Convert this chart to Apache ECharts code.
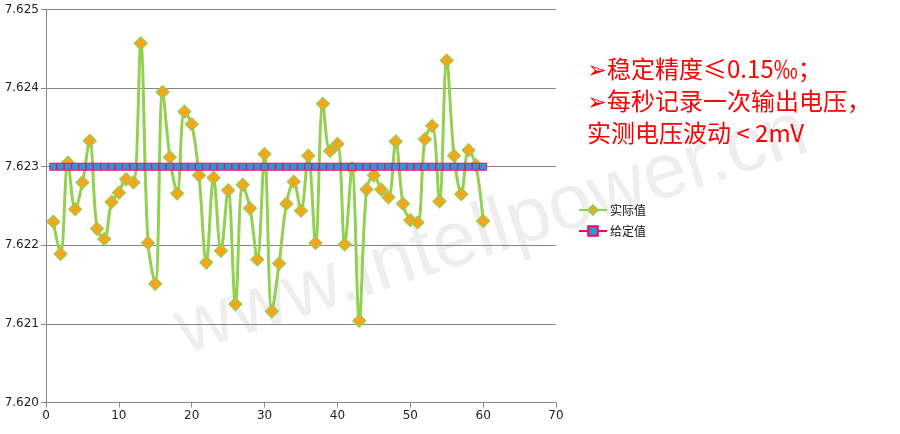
<!DOCTYPE html>
<html>
<head>
<meta charset="utf-8">
<script src="https://cdn.jsdelivr.net/npm/echarts@6/dist/echarts.min.js"></script>
<style>
html,body{margin:0;padding:0;background:#fff;}
#chart{width:900px;height:434px;}
</style>
</head>
<body>
<div id="chart"></div>
<script>
const seconds = [1,2,3,4,5,6,7,8,9,10,11,12,13,14,15,16,17,18,19,20,21,22,23,24,25,26,27,28,29,30,
  31,32,33,34,35,36,37,38,39,40,41,42,43,44,45,46,47,48,49,50,51,52,53,54,55,56,57,58,59,60];
const actualValues = [
  7.62230,7.62189,7.62305,7.62246,7.62280,7.62333,7.62221,7.62208,7.62255,7.62267,
  7.62284,7.62280,7.62457,7.62203,7.62151,7.62395,7.62312,7.62266,7.62370,7.62354,
  7.62289,7.62178,7.62286,7.62193,7.62270,7.62125,7.62277,7.62247,7.62182,7.62316,
  7.62116,7.62177,7.62253,7.62281,7.62244,7.62314,7.62203,7.62380,7.62320,7.62329,
  7.62201,7.62298,7.62104,7.62271,7.62289,7.62271,7.62261,7.62332,7.62253,7.62232,
  7.62229,7.62335,7.62352,7.62256,7.62435,7.62314,7.62265,7.62321,7.62302,7.62231];
const setpointValues = [
  7.623,7.623,7.623,7.623,7.623,7.623,7.623,7.623,7.623,7.623,
  7.623,7.623,7.623,7.623,7.623,7.623,7.623,7.623,7.623,7.623,
  7.623,7.623,7.623,7.623,7.623,7.623,7.623,7.623,7.623,7.623,
  7.623,7.623,7.623,7.623,7.623,7.623,7.623,7.623,7.623,7.623,
  7.623,7.623,7.623,7.623,7.623,7.623,7.623,7.623,7.623,7.623,
  7.623,7.623,7.623,7.623,7.623,7.623,7.623,7.623,7.623,7.623];
const seriesNames = ['实际值', '给定值'];
const noteLines = ['➢稳定精度≤0.15‰；', '➢每秒记录一次输出电压，', '实测电压波动 < 2mV'];
const watermark = 'www.intellpower.cn';

const actualData = seconds.map((s, i) => [s, actualValues[i]]);
const setData = seconds.map((s, i) => [s, setpointValues[i]]);

const chart = echarts.init(document.getElementById('chart'), null, {renderer: 'canvas'});
const axisColor = '#868686';
const labelFont = {color: '#222', fontSize: 12, fontFamily: 'DejaVu Sans'};

chart.setOption({
  animation: false,
  backgroundColor: '#fff',
  grid: {left: 46, right: 344, top: 9.5, bottom: 31.5, containLabel: false},
  xAxis: {
    type: 'value', min: 0, max: 70, interval: 10,
    axisLine: {show: true, lineStyle: {color: axisColor, width: 1}},
    axisTick: {show: true, length: 5, lineStyle: {color: axisColor}},
    axisLabel: Object.assign({margin: 7}, labelFont),
    splitLine: {show: false}
  },
  yAxis: {
    type: 'value', min: 7.620, max: 7.625, interval: 0.001,
    axisLine: {show: true, lineStyle: {color: axisColor, width: 1}},
    axisTick: {show: true, length: 5, lineStyle: {color: axisColor}},
    axisLabel: Object.assign({margin: 7, formatter: v => v.toFixed(3)}, labelFont),
    splitLine: {show: true, lineStyle: {color: axisColor, width: 1}}
  },
  legend: {
    orient: 'vertical', left: 573, top: 199,
    itemWidth: 28, itemHeight: 12, itemGap: 9,
    textStyle: {color: '#111', fontSize: 12, fontFamily: 'Noto Sans CJK SC', padding: [0,0,0,-2]},
    data: seriesNames
  },
  graphic: [
    {
      type: 'text', z: 0,
      x: 492, y: 232, rotation: 18 * Math.PI / 180,
      style: {text: watermark, fill: 'rgba(200,200,200,0.3)', font: '78px "Liberation Sans"', align: 'center', verticalAlign: 'middle'}
    },
    {type: 'text', x: 587, y: 69, style: {text: noteLines[0], fill: '#ff0000', font: '24px "Noto Sans CJK SC"', verticalAlign: 'middle'}},
    {type: 'text', x: 587, y: 101, style: {text: noteLines[1], fill: '#ff0000', font: '24px "Noto Sans CJK SC"', verticalAlign: 'middle'}},
    {type: 'text', x: 587, y: 133, style: {text: noteLines[2], fill: '#ff0000', font: '24px "Noto Sans CJK SC"', verticalAlign: 'middle'}}
  ],
  series: [
    {
      name: seriesNames[0], type: 'line', data: actualData, smooth: 0.35,
      symbol: 'diamond', symbolSize: 13, showAllSymbol: true, z: 3,
      lineStyle: {color: '#92D050', width: 3},
      itemStyle: {color: '#F7A51C', borderColor: '#92D050', borderWidth: 1.2}
    },
    {
      name: seriesNames[1], type: 'line', data: setData,
      symbol: 'rect', symbolSize: 7, showAllSymbol: true, z: 4,
      lineStyle: {color: '#FF0066', width: 2},
      itemStyle: {color: '#2C97D2', borderColor: '#FF0066', borderWidth: 1}
    }
  ]
});
</script>
</body>
</html>
